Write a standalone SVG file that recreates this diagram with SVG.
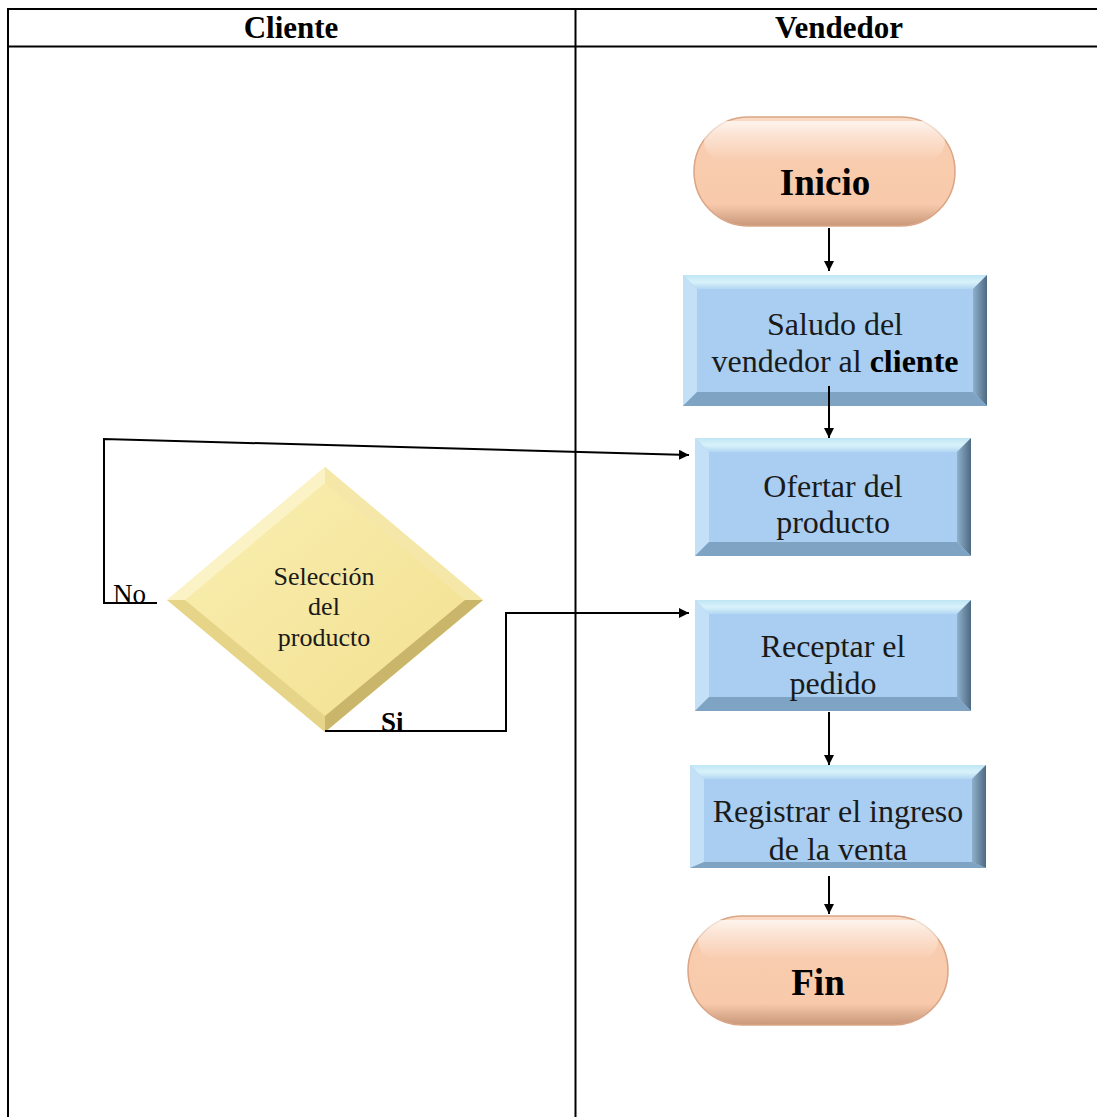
<svg xmlns="http://www.w3.org/2000/svg" width="1097" height="1117" viewBox="0 0 1097 1117">
<style>
.tbl{stroke:#000;stroke-width:2;fill:none}
text{font-family:'Liberation Serif','Times New Roman',serif}
.hdr{font-weight:bold;font-size:31px;text-anchor:middle;fill:#000}
.lbl{font-size:32px;text-anchor:middle;fill:#1a1a1a}
.term{font-weight:bold;font-size:37px;text-anchor:middle;fill:#000}
.dtxt{font-size:26px;text-anchor:middle;fill:#1a1a1a}
.conn{stroke:#000;stroke-width:2;fill:none}
.edge{font-size:27px;fill:#000}
.blue{fill:#A9CEF1}
.bt{fill:url(#gTop)}
.bl{fill:#C4E0F6}
.br{fill:url(#gRight)}
.bb{fill:#7FA3C2}
</style>
<defs>
<marker id="ah" viewBox="0 0 10 10" refX="10" refY="5" markerWidth="5" markerHeight="5" orient="auto" markerUnits="strokeWidth"><path d="M0,0 L10,5 L0,10 z" fill="#000"/></marker>
<linearGradient id="gTop" x1="0" y1="0" x2="0" y2="1"><stop offset="0" stop-color="#BFE6F5"/><stop offset="0.5" stop-color="#D8F2FA"/><stop offset="1" stop-color="#B3D8F2"/></linearGradient>
<linearGradient id="gRight" x1="0" y1="0" x2="1" y2="0"><stop offset="0" stop-color="#8FB0CC"/><stop offset="1" stop-color="#4F6A82"/></linearGradient>
<linearGradient id="gPeach" x1="0" y1="0" x2="0" y2="1"><stop offset="0" stop-color="#FBDCC8"/><stop offset="0.15" stop-color="#F9CDB0"/><stop offset="0.8" stop-color="#F8CAAB"/><stop offset="1" stop-color="#C9977A"/></linearGradient>
<linearGradient id="gPeachHi" x1="0" y1="0" x2="0" y2="1"><stop offset="0" stop-color="#FFFFFF" stop-opacity="0.7"/><stop offset="1" stop-color="#FFFFFF" stop-opacity="0"/></linearGradient>
<linearGradient id="gYel" x1="0" y1="0" x2="1" y2="1"><stop offset="0" stop-color="#FAF0B4"/><stop offset="1" stop-color="#F2DF8E"/></linearGradient>
<clipPath id="clipReg"><rect x="702" y="777" width="272" height="83"/></clipPath>
</defs>

<g id="table">
<line class="tbl" x1="7" y1="9" x2="1097" y2="9"/>
<line class="tbl" x1="7" y1="46.5" x2="1097" y2="46.5"/>
<line class="tbl" x1="8" y1="8" x2="8" y2="1117"/>
<line class="tbl" x1="575.5" y1="8" x2="575.5" y2="1117"/>
<text class="hdr" x="291" y="38">Cliente</text>
<text class="hdr" x="839" y="38">Vendedor</text>
</g>

<g id="inicio">
<rect x="694" y="117" width="261" height="109" rx="54.5" fill="url(#gPeach)" stroke="#D9A585" stroke-width="1.5"/>
<rect x="704" y="121" width="241" height="40" rx="20" fill="url(#gPeachHi)"/>
<text class="term" x="825" y="195">Inicio</text>
</g>

<g id="saludo">
<rect class="blue" x="683" y="275" width="304" height="131"/>
<polygon class="bt" points="683,275 987,275 973,289 697,289"/>
<polygon class="bl" points="683,275 697,289 697,392 683,406"/>
<polygon class="br" points="987,275 987,406 973,392 973,289"/>
<polygon class="bb" points="683,406 987,406 973,392 697,392"/>
<text class="lbl" x="835" y="335">Saludo del</text>
<text class="lbl" x="835" y="372">vendedor al <tspan font-weight="bold" fill="#000">cliente</tspan></text>
</g>

<g id="ofertar">
<rect class="blue" x="695" y="438" width="276" height="118"/>
<polygon class="bt" points="695,438 971,438 957,452 709,452"/>
<polygon class="bl" points="695,438 709,452 709,542 695,556"/>
<polygon class="br" points="971,438 971,556 957,542 957,452"/>
<polygon class="bb" points="695,556 971,556 957,542 709,542"/>
<text class="lbl" x="833" y="497">Ofertar del</text>
<text class="lbl" x="833" y="533">producto</text>
</g>

<g id="receptar">
<rect class="blue" x="695" y="600" width="276" height="111"/>
<polygon class="bt" points="695,600 971,600 957,614 709,614"/>
<polygon class="bl" points="695,600 709,614 709,697 695,711"/>
<polygon class="br" points="971,600 971,711 957,697 957,614"/>
<polygon class="bb" points="695,711 971,711 957,697 709,697"/>
<text class="lbl" x="833" y="657">Receptar el</text>
<text class="lbl" x="833" y="694">pedido</text>
</g>

<g id="registrar">
<rect class="blue" x="690" y="765" width="296" height="103"/>
<polygon class="bt" points="690,765 986,765 972,779 704,779"/>
<polygon class="bl" points="690,765 704,779 704,862 690,868"/>
<polygon class="br" points="986,765 986,868 972,862 972,779"/>
<polygon class="bb" points="690,868 986,868 972,862 704,862"/>
<g clip-path="url(#clipReg)">
<text class="lbl" x="838" y="822">Registrar el ingreso</text>
<text class="lbl" x="838" y="860">de la venta</text>
</g>
</g>

<g id="fin">
<rect x="688" y="916" width="260" height="109" rx="54.5" fill="url(#gPeach)" stroke="#D9A585" stroke-width="1.5"/>
<rect x="698" y="920" width="240" height="40" rx="20" fill="url(#gPeachHi)"/>
<text class="term" x="818" y="995">Fin</text>
</g>

<g id="seleccion">
<polygon points="325,467 483,600 325,732 167,600" fill="url(#gYel)"/>
<polygon points="325,467 167,600 185,600 325,483" fill="#FBF3C6"/>
<polygon points="325,467 483,600 465,600 325,483" fill="#F5E7A8"/>
<polygon points="483,600 325,732 325,716 465,600" fill="#C9B66A"/>
<polygon points="167,600 325,732 325,716 185,600" fill="#E6D488"/>
<text class="dtxt" x="324" y="585">Selección</text>
<text class="dtxt" x="324" y="615">del</text>
<text class="dtxt" x="324" y="646">producto</text>
</g>

<g id="connectors">
<line class="conn" x1="829" y1="228" x2="829" y2="271" marker-end="url(#ah)"/>
<line class="conn" x1="829" y1="386" x2="829" y2="438" marker-end="url(#ah)"/>
<line class="conn" x1="829" y1="712" x2="829" y2="765" marker-end="url(#ah)"/>
<line class="conn" x1="829" y1="876" x2="829" y2="914" marker-end="url(#ah)"/>
<polyline class="conn" points="157,603 104,603 104,439 689,455" marker-end="url(#ah)"/>
<polyline class="conn" points="325,731 506,731 506,613 689,613" marker-end="url(#ah)"/>
<text class="edge" x="113" y="603">No</text>
<text class="edge" x="381" y="731" font-weight="bold" font-size="30">Si</text>
</g>
</svg>
